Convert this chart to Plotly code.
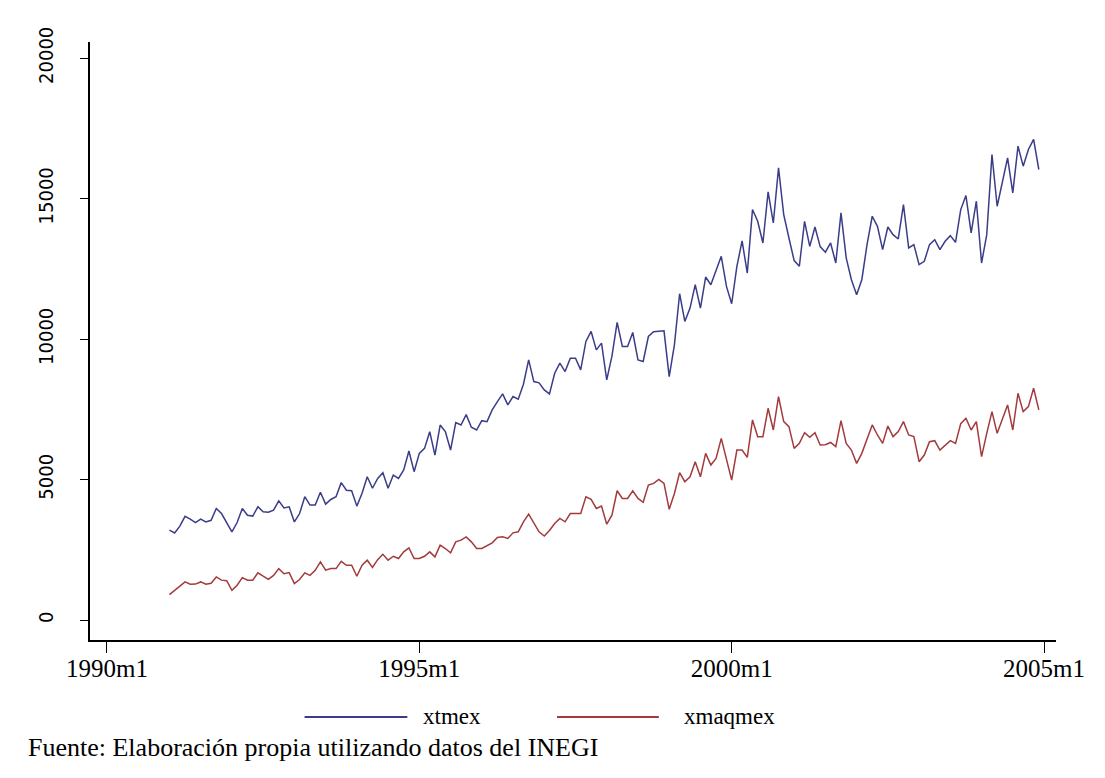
import plotly.graph_objects as go

# ---- data (monthly, 1991m1 .. 2004m12) ----
years = list(range(1991, 2005))
xtmex = [
    3210, 3110, 3350, 3700, 3600, 3480, 3600, 3500, 3560, 3980, 3800, 3500,
    3150, 3480, 3980, 3740, 3710, 4040, 3860, 3850, 3920, 4250, 4000, 4040,
    3500, 3800, 4400, 4100, 4100, 4560, 4135, 4300, 4400, 4900, 4630, 4610,
    4064, 4520, 5110, 4700, 5050, 5250, 4700, 5170, 5050, 5350, 6025, 5290,
    5940, 6120, 6714, 5880, 6950, 6714, 6060, 7035, 6950, 7320, 6870, 6773,
    7106, 7071, 7487, 7784, 8057, 7665, 7962, 7867, 8400, 9269, 8497, 8450,
    8200, 8057, 8794, 9150, 8853, 9328, 9328, 8912, 9923, 10280, 9625, 9863,
    8556, 9400, 10600, 9744, 9744, 10243, 9269, 9210, 10100, 10270, 10290, 10303,
    8675, 9804, 11622, 10636, 11111, 11943, 11111, 12216, 11943, 12418, 12953, 11883,
    11265, 12596, 13500, 12359, 14617, 14200, 13428, 15250, 14141, 16100, 14438, 13606,
    12800, 12600, 14200, 13309, 13998, 13300, 13100, 13428, 12716, 14498, 12900, 12121,
    11586, 12121, 13369, 14379, 14022, 13190, 13998, 13725, 13571, 14795, 13250, 13369,
    12656, 12775, 13369, 13547, 13190, 13488, 13690, 13452, 14617, 15115, 13785, 14914,
    12716, 13725, 16577, 14735, 15626, 16458, 15211, 16874, 16161, 16756, 17112, 16043,
]
xmaqmex = [
    915, 1070, 1212, 1366, 1283, 1290, 1366, 1283, 1320, 1545, 1430, 1410,
    1070, 1250, 1520, 1426, 1430, 1690, 1570, 1460, 1600, 1840, 1660, 1700,
    1310, 1450, 1690, 1600, 1780, 2080, 1783, 1842, 1842, 2100, 1960, 1960,
    1570, 1960, 2140, 1880, 2160, 2350, 2140, 2280, 2200, 2436, 2580, 2200,
    2200, 2280, 2436, 2257, 2674, 2555, 2400, 2793, 2852, 2971, 2793, 2555,
    2555, 2650, 2757, 2947, 2971, 2912, 3114, 3150, 3505, 3779, 3450, 3150,
    3000, 3200, 3446, 3624, 3505, 3800, 3800, 3800, 4397, 4302, 3980, 4064,
    3422, 3743, 4611, 4337, 4337, 4610, 4337, 4200, 4813, 4872, 5015, 4872,
    3950, 4515, 5252, 4932, 5110, 5644, 5110, 5942, 5526, 5764, 6476, 5704,
    4991, 6060, 6060, 5800, 7130, 6536, 6536, 7546, 6773, 7962, 7071, 6892,
    6120, 6300, 6678, 6512, 6678, 6239, 6250, 6330, 6179, 7106, 6298, 6060,
    5585, 5942, 6417, 6952, 6595, 6298, 6916, 6536, 6714, 7071, 6595, 6536,
    5644, 5882, 6358, 6393, 6060, 6239, 6393, 6298, 7000, 7190, 6773, 7071,
    5823, 6654, 7427, 6654, 7190, 7665, 6773, 8081, 7427, 7606, 8259, 7487,
]
series_names = ["xtmex", "xmaqmex"]
x_ticklabels = ["1990m1", "1995m1", "2000m1", "2005m1"]
y_ticks = [0, 5000, 10000, 15000, 20000]
source_note = "Fuente: Elaboración propia utilizando datos del INEGI"

# Stata-like monthly dates -> months since 1990m1
def tm(label):
    y, m = label.split("m")
    return (int(y) - 1990) * 12 + int(m) - 1

months = [f"{y}m{m}" for y in years for m in range(1, 13)]
xvals = [tm(s) for s in months]

BLUE = "#3a3d88"
RED = "#a33a3c"
SERIF = "Liberation Serif, Times New Roman, serif"
NARROW = "DejaVu Sans Condensed, Liberation Sans Narrow, Liberation Sans, sans-serif"

fig = go.Figure()
fig.add_trace(go.Scatter(x=xvals, y=xtmex, mode="lines", name=series_names[0],
                         line=dict(color=BLUE, width=1.5), text=months,
                         hovertemplate="%{text}: %{y}<extra>xtmex</extra>"))
fig.add_trace(go.Scatter(x=xvals, y=xmaqmex, mode="lines", name=series_names[1],
                         line=dict(color=RED, width=1.5), text=months,
                         hovertemplate="%{text}: %{y}<extra>xmaqmex</extra>"))

# page has an 8px body margin: figure coordinates = page coordinates - 8
OFF = 8
W, H = 1105 - 2 * OFF, 778 - 2 * OFF
L, T = 90 - OFF, 42 - OFF
R = W - (1058 - OFF)
B = H - (640 - OFF)
pw, ph = W - L - R, H - T - B

def px(xp):
    return (xp - OFF - L) / pw

def py(yp):
    return (H - B - (yp - OFF)) / ph

# manual legend (Stata style, long keys)
legend_items = [(series_names[0], BLUE, 305, 408, 422), (series_names[1], RED, 558, 660, 683)]
shapes = []
annotations = []
for name, col, x0, x1, xt in legend_items:
    shapes.append(dict(type="line", xref="paper", yref="paper",
                       x0=px(x0), x1=px(x1), y0=py(717), y1=py(717),
                       line=dict(color=col, width=2)))
    annotations.append(dict(text=name, xref="paper", yref="paper", x=px(xt), y=py(716),
                            xanchor="left", yanchor="middle", showarrow=False,
                            font=dict(family=SERIF, size=23, color="black")))
annotations.append(dict(text=source_note, xref="paper", yref="paper", x=px(26), y=py(748),
                        xanchor="left", yanchor="middle", showarrow=False,
                        font=dict(family=SERIF, size=26, color="black")))

fig.update_layout(
    width=W, height=H,
    margin=dict(l=L, r=R, t=T, b=B),
    paper_bgcolor="white", plot_bgcolor="white",
    showlegend=False,
    shapes=shapes, annotations=annotations,
    xaxis=dict(range=[-3.26, 182.3], showgrid=False, zeroline=False,
               showline=True, linecolor="black", linewidth=1.5,
               ticks="outside", ticklen=11, tickwidth=1.3, tickcolor="black",
               tickvals=[tm(s) for s in x_ticklabels], ticktext=x_ticklabels,
               ticklabelstandoff=-6,
               tickfont=dict(family=SERIF, size=25, color="black")),
    yaxis=dict(range=[-700, 20580], showgrid=False, zeroline=False,
               showline=True, linecolor="black", linewidth=1.5,
               ticks="outside", ticklen=8, tickwidth=1.3, tickcolor="black",
               tickvals=y_ticks, ticktext=[str(v) for v in y_ticks],
               tickangle=-90, ticklabelstandoff=19,
               tickfont=dict(family=NARROW, size=20, color="black")),
)

fig.write_html("out.html")
